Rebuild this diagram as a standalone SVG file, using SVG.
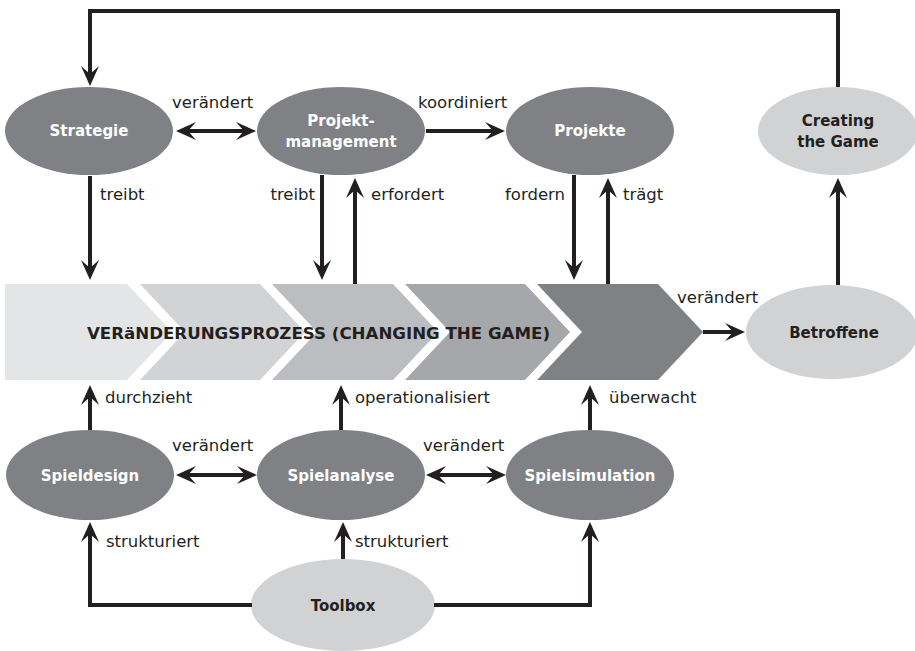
<svg xmlns="http://www.w3.org/2000/svg" width="915" height="651" viewBox="0 0 915 651">
<style>
.dk{fill:#808184}
.lt{fill:#d1d2d4}
.nt{font-family:"DejaVu Sans","Liberation Sans",sans-serif;font-weight:bold;font-size:15px;text-anchor:middle}
.w{fill:#ffffff}
.b{fill:#231f20}
.lb{font-family:"DejaVu Sans","Liberation Sans",sans-serif;font-size:16.5px;fill:#231f20}
.c{fill:none;stroke:#231f20;stroke-width:4}
.a{marker-end:url(#ah)}
.d{marker-end:url(#ah);marker-start:url(#ah)}
</style>
<defs>
<marker id="ah" markerUnits="userSpaceOnUse" viewBox="-15 -15 30 30" markerWidth="30" markerHeight="30" refX="0" refY="0" orient="auto-start-reverse" overflow="visible">
<path d="M10,0 L-10,-9 L-2,0 L-10,9 Z" fill="#231f20"/>
</marker>
</defs>
<rect width="915" height="651" fill="#ffffff"/>
<g id="process">
<polygon points="5,284 127,284 172,332 127,380 5,380" fill="#e4e5e6"/>
<polygon points="140,284 260,284 305,332 260,380 140,380 185,332" fill="#d2d3d5"/>
<polygon points="272,284 393,284 438,332 393,380 272,380 317,332" fill="#bcbdc0"/>
<polygon points="405,284 525,284 570,332 525,380 405,380 450,332" fill="#a6a7aa"/>
<polygon points="537,284 658,284 703,332 658,380 537,380 582,332" fill="#808184"/>
<text x="87" y="339" class="b" style="font-family:'DejaVu Sans','Liberation Sans',sans-serif;font-weight:bold;font-size:15px" textLength="463" lengthAdjust="spacingAndGlyphs">VERäNDERUNGSPROZESS (CHANGING THE GAME)</text>
</g>
<g id="strategie"><ellipse cx="89" cy="131" rx="84" ry="44" class="dk"/><text x="89" y="136" class="nt w">Strategie</text></g>
<g id="projektmanagement"><ellipse cx="341" cy="131" rx="84" ry="44" class="dk"/><text x="341" y="126" class="nt w">Projekt-</text><text x="341" y="147" class="nt w">management</text></g>
<g id="projekte"><ellipse cx="590" cy="131" rx="84" ry="44" class="dk"/><text x="590" y="136" class="nt w">Projekte</text></g>
<g id="creating"><ellipse cx="838" cy="131" rx="80" ry="44" class="lt"/><text x="838" y="126" class="nt b">Creating</text><text x="838" y="147" class="nt b">the Game</text></g>
<g id="betroffene"><ellipse cx="832" cy="332" rx="86" ry="47" class="lt"/><text x="834" y="338" class="nt b">Betroffene</text></g>
<g id="spieldesign"><ellipse cx="90" cy="475" rx="84" ry="45" class="dk"/><text x="90" y="481" class="nt w">Spieldesign</text></g>
<g id="spielanalyse"><ellipse cx="341" cy="475" rx="84" ry="45" class="dk"/><text x="341" y="481" class="nt w">Spielanalyse</text></g>
<g id="spielsimulation"><ellipse cx="590" cy="475" rx="84" ry="45" class="dk"/><text x="590" y="481" class="nt w">Spielsimulation</text></g>
<g id="toolbox"><ellipse cx="343" cy="605" rx="92" ry="46" class="lt"/><text x="343" y="611" class="nt b">Toolbox</text></g>
<g id="connectors">
<path class="c a" d="M838,87 V11 H90 V76"/>
<path class="c d" d="M186,131 H246"/>
<path class="c a" d="M426,131 H495"/>
<path class="c a" d="M90,176 V270"/>
<path class="c a" d="M322,175 V270"/>
<path class="c a" d="M355,284 V188"/>
<path class="c a" d="M574,175 V270"/>
<path class="c a" d="M608,284 V188"/>
<path class="c a" d="M838,285 V188"/>
<path class="c a" d="M703,332 H735"/>
<path class="c a" d="M90,430 V395"/>
<path class="c a" d="M341,430 V395"/>
<path class="c a" d="M590,430 V395"/>
<path class="c d" d="M186,475 H247"/>
<path class="c d" d="M436,475 H496"/>
<path class="c a" d="M252,605 H90 V532"/>
<path class="c a" d="M434,605 H590 V532"/>
<path class="c a" d="M343,559 V532"/>
<text x="172" y="108" class="lb">verändert</text>
<text x="418" y="108" class="lb">koordiniert</text>
<text x="100" y="200" class="lb">treibt</text>
<text x="315" y="200" class="lb" text-anchor="end">treibt</text>
<text x="371" y="200" class="lb">erfordert</text>
<text x="565" y="200" class="lb" text-anchor="end">fordern</text>
<text x="623" y="200" class="lb">trägt</text>
<text x="677" y="303" class="lb">verändert</text>
<text x="105" y="403" class="lb">durchzieht</text>
<text x="355" y="403" class="lb">operationalisiert</text>
<text x="609" y="403" class="lb">überwacht</text>
<text x="172" y="451" class="lb">verändert</text>
<text x="423" y="451" class="lb">verändert</text>
<text x="106" y="547" class="lb">strukturiert</text>
<text x="355" y="547" class="lb">strukturiert</text>
</g>
</svg>
